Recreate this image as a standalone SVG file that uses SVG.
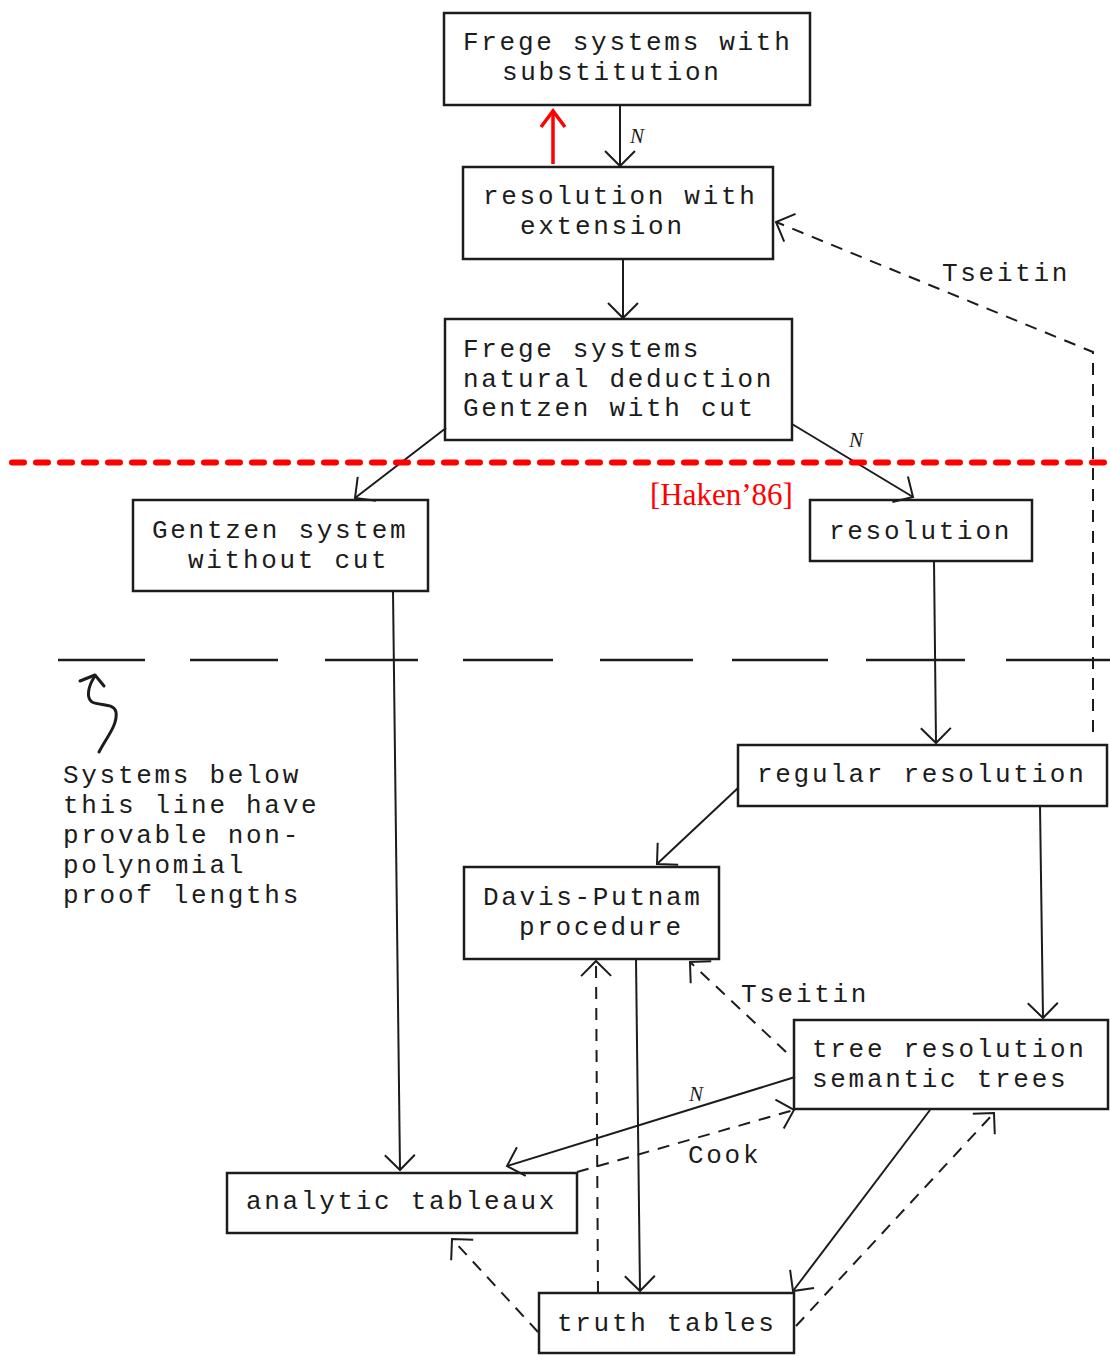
<svg xmlns="http://www.w3.org/2000/svg" width="1110" height="1356" viewBox="0 0 1110 1356">
<defs>
<style>
.box{fill:none;stroke:#1c1c1c;stroke-width:2.5}
.t{font-family:"Liberation Mono","DejaVu Sans Mono",monospace;font-size:26px;letter-spacing:2.7px;fill:#1c1c1c}
.n{font-family:"Liberation Serif","DejaVu Serif",serif;font-style:italic;font-size:21px;fill:#1c1c1c}
.c{fill:none;stroke:#1c1c1c;stroke-width:2}
.d{fill:none;stroke:#1c1c1c;stroke-width:2;stroke-dasharray:12 9}
</style>
<marker id="ah" viewBox="-20 -20 24 40" markerWidth="24" markerHeight="40" refX="0" refY="0" orient="auto" markerUnits="userSpaceOnUse">
<path d="M-15,-15 L0,0 L-15,15" fill="none" stroke="#1c1c1c" stroke-width="2" stroke-dasharray="none"/>
</marker>
</defs>
<rect width="1110" height="1356" fill="#fff"/>

<g id="node-frege-subst">
<rect class="box" x="444" y="13" width="366" height="92"/>
<text class="t" x="463" y="50">Frege systems with</text>
<text class="t" x="502" y="80">substitution</text>
</g>
<g id="node-res-ext">
<rect class="box" x="463" y="167" width="310" height="92"/>
<text class="t" x="483" y="204">resolution with</text>
<text class="t" x="520" y="234">extension</text>
</g>
<g id="node-frege">
<rect class="box" x="445" y="319" width="347" height="121"/>
<text class="t" x="463" y="357">Frege systems</text>
<text class="t" x="463" y="387">natural deduction</text>
<text class="t" x="463" y="416">Gentzen with cut</text>
</g>
<g id="node-gentzen-nocut">
<rect class="box" x="133" y="500" width="295" height="91"/>
<text class="t" x="152" y="538">Gentzen system</text>
<text class="t" x="188" y="568">without cut</text>
</g>
<g id="node-resolution">
<rect class="box" x="810" y="500" width="222" height="61"/>
<text class="t" x="829" y="539">resolution</text>
</g>
<g id="node-regular">
<rect class="box" x="738" y="745" width="369" height="61"/>
<text class="t" x="757" y="782">regular resolution</text>
</g>
<g id="node-dp">
<rect class="box" x="464" y="867" width="255" height="92"/>
<text class="t" x="483" y="905">Davis-Putnam</text>
<text class="t" x="519" y="935">procedure</text>
</g>
<g id="node-tree">
<rect class="box" x="794" y="1020" width="314" height="89"/>
<text class="t" x="812" y="1057">tree resolution</text>
<text class="t" x="812" y="1087">semantic trees</text>
</g>
<g id="node-tableaux">
<rect class="box" x="227" y="1173" width="350" height="60"/>
<text class="t" x="246" y="1209">analytic tableaux</text>
</g>
<g id="node-truth">
<rect class="box" x="539" y="1293" width="255" height="60"/>
<text class="t" x="557" y="1331">truth tables</text>
</g>

<g id="connectors">
<path class="c" d="M620,105 L620,166" marker-end="url(#ah)"/>
<path class="c" d="M623,259 L623,318" marker-end="url(#ah)"/>
<path class="c" d="M446,428 L355,498" marker-end="url(#ah)"/>
<path class="c" d="M792,424 L913,497" marker-end="url(#ah)"/>
<path class="d" d="M1093,732 L1093,352 L776,222" marker-end="url(#ah)"/>
<path class="c" d="M393,591 L400,1170" marker-end="url(#ah)"/>
<path class="c" d="M934,561 L936,743" marker-end="url(#ah)"/>
<path class="c" d="M738,788 L657,864" marker-end="url(#ah)"/>
<path class="c" d="M1040,806 L1043,1018" marker-end="url(#ah)"/>
<path class="c" d="M636,959 L640,1291" marker-end="url(#ah)"/>
<path class="d" d="M598,1293 L596,961" marker-end="url(#ah)"/>
<path class="d" d="M786,1052 L690,962" marker-end="url(#ah)"/>
<path class="c" d="M795,1077 L507,1166" marker-end="url(#ah)"/>
<path class="d" d="M577,1172 L794,1110" marker-end="url(#ah)"/>
<path class="c" d="M930,1110 L793,1291" marker-end="url(#ah)"/>
<path class="d" d="M796,1326 L994,1113" marker-end="url(#ah)"/>
<path class="d" d="M538,1332 L452,1239" marker-end="url(#ah)"/>
<text class="n" x="630" y="143">N</text>
<text class="n" x="849" y="447">N</text>
<text class="n" x="689" y="1101">N</text>
<text class="t" x="942" y="281">Tseitin</text>
<text class="t" x="741" y="1002">Tseitin</text>
<text class="t" x="688" y="1163">Cook</text>
</g>

<g id="annotations">
<path d="M58,660 H145 M190,660 H278 M325,660 H418 M463,660 H553 M600,660 H693 M732,660 H828 M866,660 H965 M1006,660 H1110" fill="none" stroke="#1c1c1c" stroke-width="2.5"/>
<path d="M99,752 C106,738 118,725 116,712 C114,703 100,706 92,702 C86,698 88,686 95,676" fill="none" stroke="#1c1c1c" stroke-width="3" stroke-linecap="round"/>
<path d="M80,681 L95,675 L104,686" fill="none" stroke="#1c1c1c" stroke-width="3" stroke-linecap="round" stroke-linejoin="round"/>
<text class="t" x="63" y="783">Systems below</text>
<text class="t" x="63" y="813">this line have</text>
<text class="t" x="63" y="843">provable non-</text>
<text class="t" x="63" y="873">polynomial</text>
<text class="t" x="63" y="903">proof lengths</text>
<path d="M12,462.5 H1104" fill="none" stroke="#ff0000" stroke-width="6" stroke-linecap="round" stroke-dasharray="12 12"/>
<text x="650" y="505" font-family="Liberation Serif, serif" font-size="31" fill="#ff0000">[Haken’86]</text>
<path d="M553,164 L553,111" fill="none" stroke="#ff0000" stroke-width="3.5"/>
<path d="M541,127 L553,111 L565,127" fill="none" stroke="#ff0000" stroke-width="3.5"/>
</g>
</svg>
